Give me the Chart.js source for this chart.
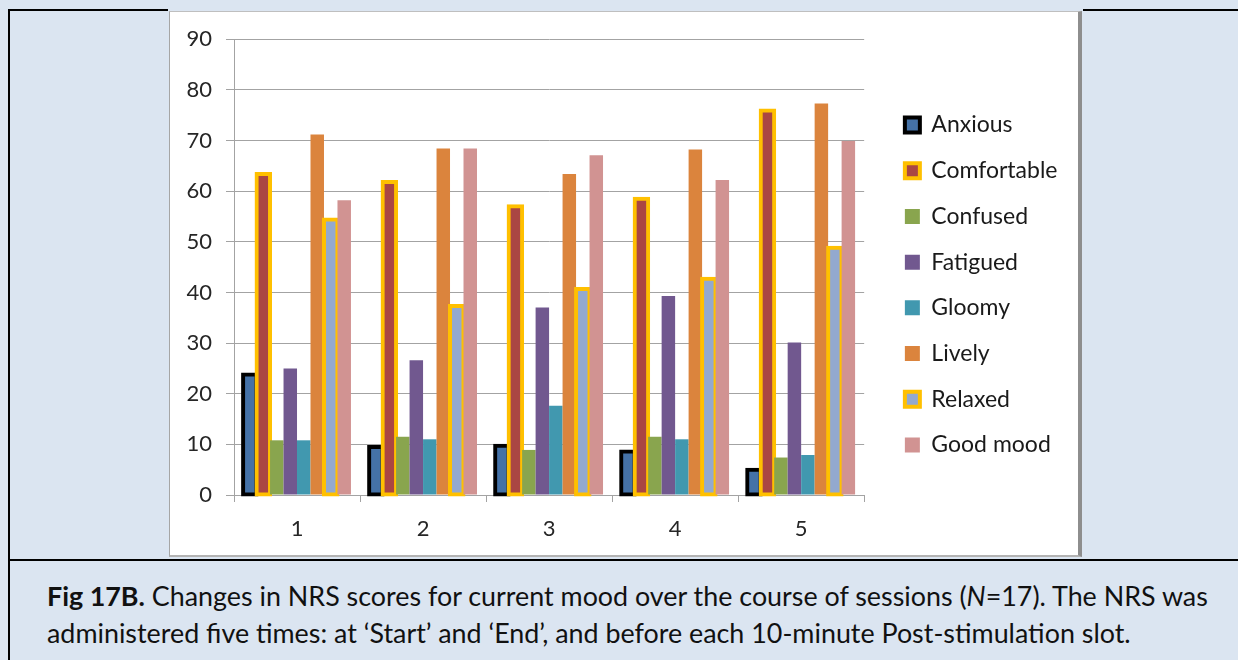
<!DOCTYPE html>
<html>
<head>
<meta charset="utf-8">
<script src="https://cdn.jsdelivr.net/npm/chart.js@4.4.1/dist/chart.umd.min.js"></script>
<style>
  html, body { margin: 0; padding: 0; }
  body {
    width: 1238px; height: 660px; position: relative; overflow: hidden;
    background: #dbe5f1; font-family: Lato, "Open Sans", sans-serif; color: #111;
  }
  .rule { position: absolute; background: #000; }
  #ruleTop { left: 8px; top: 9px; width: 1230px; height: 2px; }
  #ruleLeft { left: 8px; top: 9px; width: 2px; height: 651px; }
  #ruleMid { left: 8px; top: 559px; width: 1230px; height: 2px; }
  #gap { position: absolute; left: 168px; top: 9px; width: 915px; height: 3px; background: #dbe5f1; }
  #frame {
    position: absolute; left: 169px; top: 11px; width: 908px; height: 543px; background: #fff;
    border-left: 1px solid #a6a6a6; border-top: 1px solid #bfbfbf;
    border-right: 4px solid #8e8e8e; border-bottom: 2px solid #b3b3b3;
  }
  #frame canvas { display: block; }
  #caption { position: absolute; left: 47px; top: 577px; line-height: 37px; font-size: 23px; color: #111; }
  #caption .ln { display: block; width: max-content; white-space: nowrap; }
</style>
</head>
<body>
<div class="rule" id="ruleTop"></div>
<div class="rule" id="ruleLeft"></div>
<div class="rule" id="ruleMid"></div>
<div id="gap"></div>
<div id="frame"><canvas id="chart" width="908" height="543"></canvas></div>
<div id="caption">
  <span class="ln" id="capLine1"><b>Fig 17B.</b> Changes in NRS scores for current mood over the course of sessions (<i>N</i>=17). The NRS was</span>
  <span class="ln">administered five times: at ‘Start’ and ‘End’, and before each 10-minute Post-stimulation slot.</span>
</div>
<script>
// NRS mood scores, one value per session
const sessions = ['1', '2', '3', '4', '5'];
const anxious = [23.8, 9.5, 9.7, 8.6, 5.0];
const comfortable = [63.4, 61.8, 57.0, 58.5, 75.9];
const confused = [10.8, 11.5, 8.9, 11.5, 7.4];
const fatigued = [25.0, 26.6, 37.0, 39.3, 30.1];
const gloomy = [10.8, 11.0, 17.6, 11.0, 7.9];
const lively = [71.2, 68.4, 63.4, 68.2, 77.3];
const relaxed = [54.4, 37.3, 40.7, 42.7, 48.8];
const goodMood = [58.2, 68.4, 67.1, 62.2, 69.9];
const yTicks = [0, 10, 20, 30, 40, 50, 60, 70, 80, 90];

// fit the caption's first line to the text block width
(function fitCaption() {
  const cap = document.getElementById('caption');
  const line = document.getElementById('capLine1');
  const base = 23;
  cap.style.fontSize = base + 'px';
  const w = line.getBoundingClientRect().width;
  cap.style.fontSize = (base * 1161 / w).toFixed(2) + 'px';
})();

function series(label, data, fill, edge) {
  const ds = { label, data, backgroundColor: fill, yAxisID: 'y', clip: false };
  if (edge) {
    ds.borderColor = edge;
    ds.borderWidth = 4;
    ds.borderSkipped = false;
    ds.inflateAmount = 2;
  } else {
    ds.borderWidth = 0;
  }
  return ds;
}

// later series are painted over earlier ones
const paintInSeriesOrder = {
  id: 'paintInSeriesOrder',
  beforeDatasetsDraw(chart) {
    chart.getSortedVisibleDatasetMetas().forEach(meta => meta.controller.draw());
    return false;
  }
};

const axisGray = '#a3a3a3';
const tickFont = { family: 'Lato', size: 22 };

new Chart(document.getElementById('chart'), {
  type: 'bar',
  data: {
    labels: sessions,
    datasets: [
      series('Anxious', anxious, '#4572A7', '#000000'),
      series('Comfortable', comfortable, '#AA4643', '#FFC000'),
      series('Confused', confused, '#89A54E'),
      series('Fatigued', fatigued, '#71588F'),
      series('Gloomy', gloomy, '#4198AF'),
      series('Lively', lively, '#DB843D'),
      series('Relaxed', relaxed, '#93A9CF', '#FFC000'),
      series('Good mood', goodMood, '#D19392')
    ]
  },
  plugins: [paintInSeriesOrder],
  options: {
    responsive: false,
    animation: false,
    events: [],
    layout: { padding: { top: 3, left: 0, right: 10.5, bottom: 0 } },
    datasets: { bar: { categoryPercentage: 0.856, barPercentage: 1 } },
    scales: {
      x: {
        grid: { drawOnChartArea: false, color: axisGray, tickLength: 7, offset: true },
        border: { color: axisGray },
        ticks: { font: tickFont, color: '#262626', padding: 14 },
        afterFit(s) { s.height = 60; }
      },
      y: {
        min: 0, max: 90,
        afterBuildTicks(s) { s.ticks = yTicks.map(v => ({ value: v })); },
        grid: { color: axisGray, tickLength: 8 },
        border: { color: axisGray },
        ticks: { font: tickFont, color: '#262626', padding: 14 },
        afterFit(s) { s.width = 64; }
      },
      legendGap: {
        type: 'linear', axis: 'y', position: 'right',
        grid: { display: false }, ticks: { display: false }, border: { display: false },
        afterFit(s) { s.width = 18; }
      }
    },
    plugins: {
      title: { display: true, text: '', padding: { top: 12, bottom: 0 }, font: { size: 10, lineHeight: 1.2 } },
      tooltip: { enabled: false },
      legend: {
        position: 'right',
        align: 'center',
        maxWidth: 320,
        labels: {
          boxWidth: 15, boxHeight: 15, padding: 22.7,
          font: { family: 'Lato', size: 23 }, color: '#1a1a1a',
          sort: (a, b) => a.datasetIndex - b.datasetIndex
        }
      }
    }
  }
});
</script>
</body>
</html>
